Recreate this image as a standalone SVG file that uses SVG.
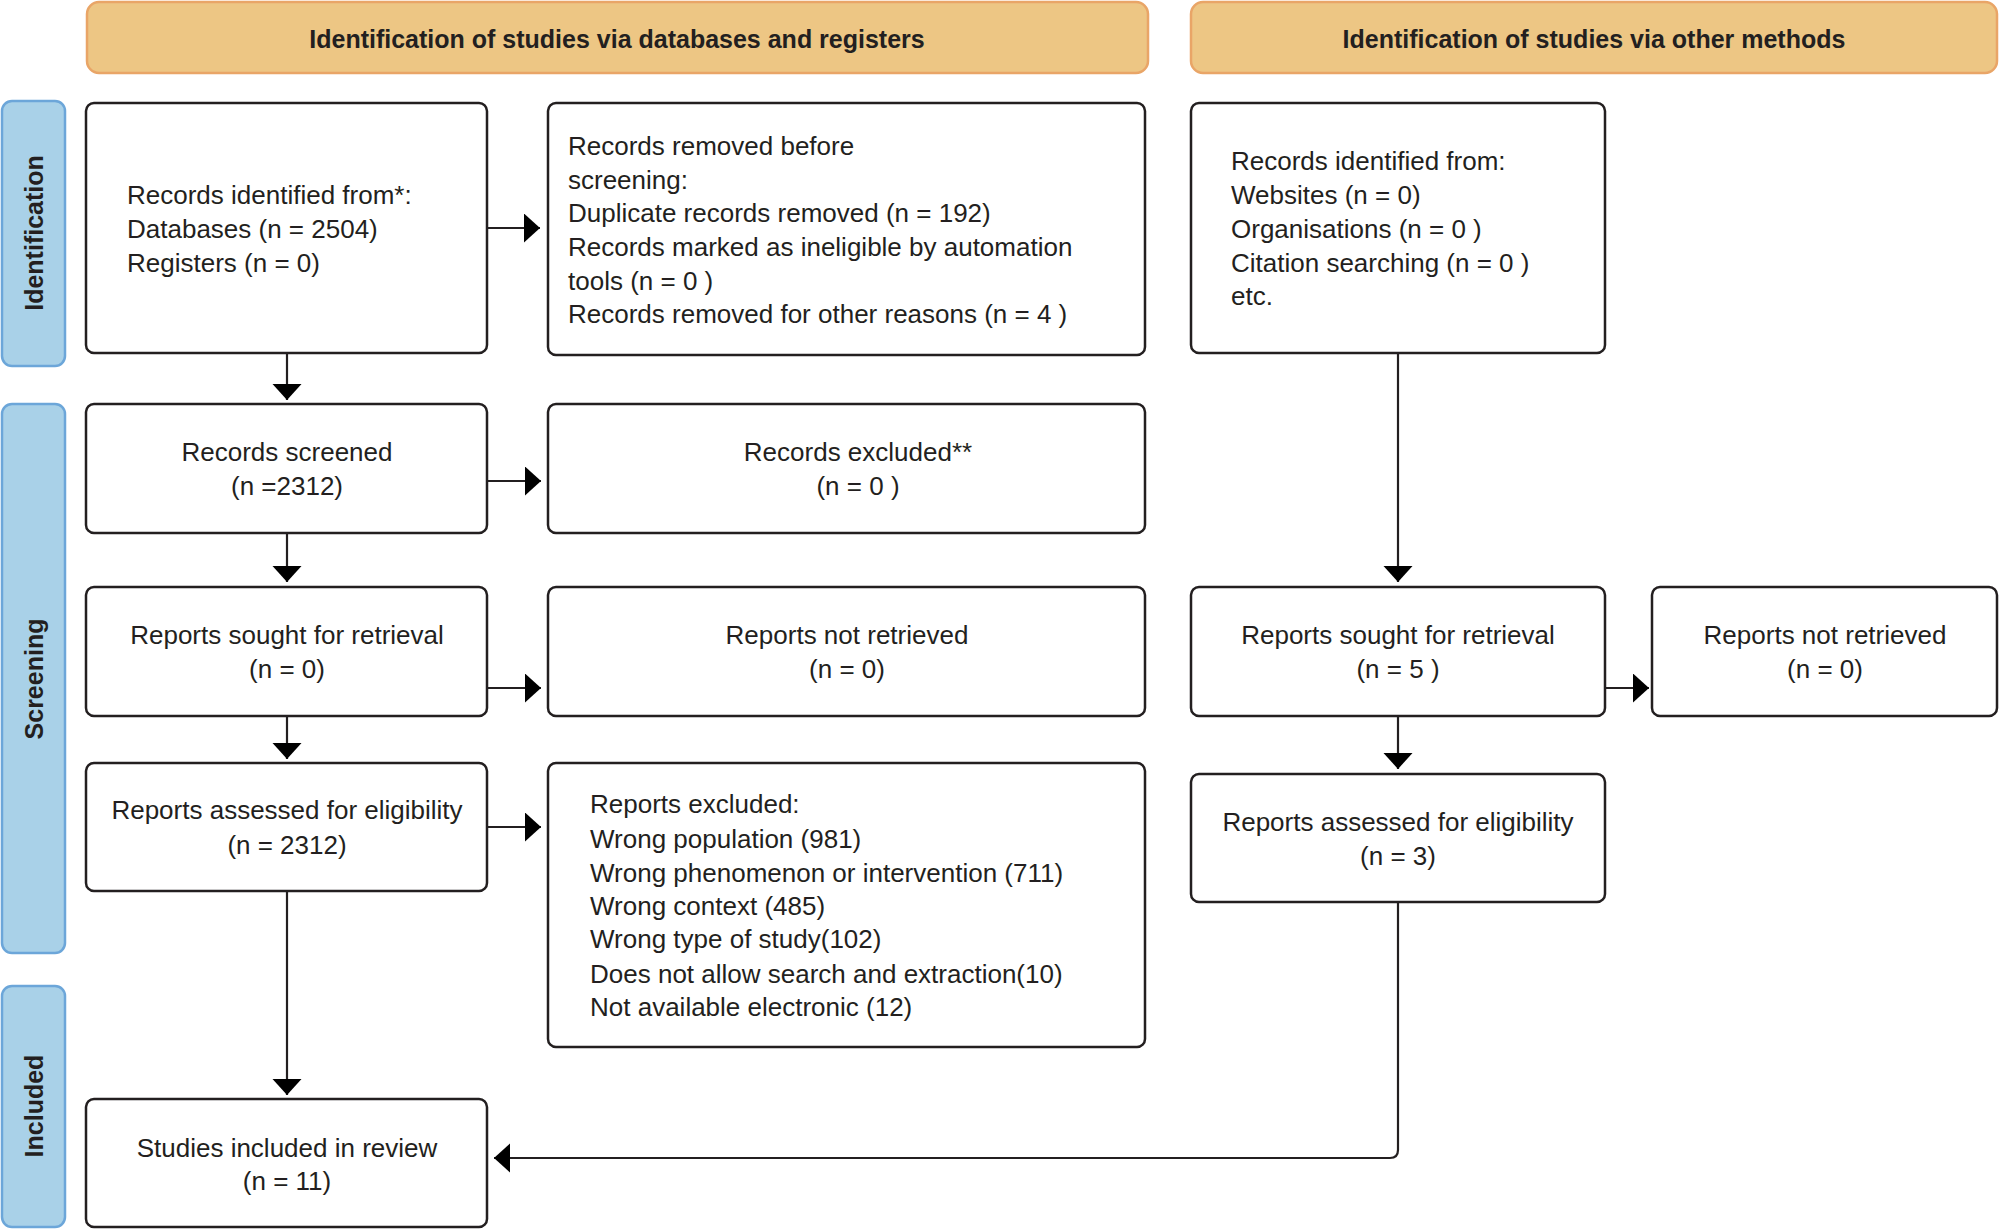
<svg xmlns="http://www.w3.org/2000/svg" width="2000" height="1229" viewBox="0 0 2000 1229">
<style>
.hdr{fill:#EDC684;stroke:#E9A567;stroke-width:2.5}
.side{fill:#A9D1E8;stroke:#6CA6D9;stroke-width:2.5}
.box{fill:#FFFFFF;stroke:#231F20;stroke-width:2.5}
.t{font-family:"Liberation Sans",Arial,sans-serif;font-size:26px;fill:#231F20}
.c{text-anchor:middle}
.ht{font-family:"Liberation Sans",Arial,sans-serif;font-size:25px;font-weight:bold;fill:#231F20;text-anchor:middle}
.st{font-family:"Liberation Sans",Arial,sans-serif;font-size:25px;font-weight:bold;fill:#231F20;text-anchor:middle}
.con{fill:none;stroke:#231F20;stroke-width:2.2}
</style>
<defs>
<marker id="ah" markerUnits="userSpaceOnUse" markerWidth="17" markerHeight="30" refX="16" refY="14.5" orient="auto">
<path d="M0,0 L16,14.5 L0,29 Z" fill="#000"/>
</marker>
</defs>
<rect width="2000" height="1229" fill="#FFFFFF"/>

<g id="header-databases">
<rect class="hdr" x="87" y="2" width="1061" height="71" rx="12"/>
<text class="ht" x="617" y="48">Identification of studies via databases and registers</text>
</g>
<g id="header-other">
<rect class="hdr" x="1191" y="2" width="806" height="71" rx="12"/>
<text class="ht" x="1594" y="48">Identification of studies via other methods</text>
</g>

<g id="side-identification">
<rect class="side" x="2" y="101" width="63" height="265" rx="10"/>
<text class="st" transform="translate(43,233) rotate(-90)">Identification</text>
</g>
<g id="side-screening">
<rect class="side" x="2" y="404" width="63" height="549" rx="10"/>
<text class="st" transform="translate(43,679) rotate(-90)">Screening</text>
</g>
<g id="side-included">
<rect class="side" x="2" y="986" width="63" height="241" rx="10"/>
<text class="st" transform="translate(43,1106) rotate(-90)">Included</text>
</g>

<g id="records-identified">
<rect class="box" x="86" y="103" width="401" height="250" rx="8"/>
<text class="t" x="127" y="204">Records identified from*:</text>
<text class="t" x="127" y="238">Databases (n = 2504)</text>
<text class="t" x="127" y="272">Registers (n = 0)</text>
</g>
<g id="records-removed">
<rect class="box" x="548" y="103" width="597" height="252" rx="8"/>
<text class="t" x="568" y="155">Records removed before</text>
<text class="t" x="568" y="189">screening:</text>
<text class="t" x="568" y="222">Duplicate records removed (n = 192)</text>
<text class="t" x="568" y="256">Records marked as ineligible by automation</text>
<text class="t" x="568" y="290">tools (n = 0 )</text>
<text class="t" x="568" y="323">Records removed for other reasons (n = 4 )</text>
</g>
<g id="other-identified">
<rect class="box" x="1191" y="103" width="414" height="250" rx="8"/>
<text class="t" x="1231" y="170">Records identified from:</text>
<text class="t" x="1231" y="204">Websites (n = 0)</text>
<text class="t" x="1231" y="238">Organisations (n = 0 )</text>
<text class="t" x="1231" y="272">Citation searching (n = 0 )</text>
<text class="t" x="1231" y="305">etc.</text>
</g>

<g id="records-screened">
<rect class="box" x="86" y="404" width="401" height="129" rx="8"/>
<text class="t c" x="287" y="461">Records screened</text>
<text class="t c" x="287" y="495">(n =2312)</text>
</g>
<g id="records-excluded">
<rect class="box" x="548" y="404" width="597" height="129" rx="8"/>
<text class="t c" x="858" y="461">Records excluded**</text>
<text class="t c" x="858" y="495">(n = 0 )</text>
</g>

<g id="reports-sought">
<rect class="box" x="86" y="587" width="401" height="129" rx="8"/>
<text class="t c" x="287" y="644">Reports sought for retrieval</text>
<text class="t c" x="287" y="678">(n = 0)</text>
</g>
<g id="reports-not-retrieved">
<rect class="box" x="548" y="587" width="597" height="129" rx="8"/>
<text class="t c" x="847" y="644">Reports not retrieved</text>
<text class="t c" x="847" y="678">(n = 0)</text>
</g>
<g id="other-reports-sought">
<rect class="box" x="1191" y="587" width="414" height="129" rx="8"/>
<text class="t c" x="1398" y="644">Reports sought for retrieval</text>
<text class="t c" x="1398" y="678">(n = 5 )</text>
</g>
<g id="other-reports-not-retrieved">
<rect class="box" x="1652" y="587" width="345" height="129" rx="8"/>
<text class="t c" x="1825" y="644">Reports not retrieved</text>
<text class="t c" x="1825" y="678">(n = 0)</text>
</g>

<g id="reports-assessed">
<rect class="box" x="86" y="763" width="401" height="128" rx="8"/>
<text class="t c" x="287" y="819">Reports assessed for eligibility</text>
<text class="t c" x="287" y="854">(n = 2312)</text>
</g>
<g id="reports-excluded">
<rect class="box" x="548" y="763" width="597" height="284" rx="8"/>
<text class="t" x="590" y="813">Reports excluded:</text>
<text class="t" x="590" y="848">Wrong population (981)</text>
<text class="t" x="590" y="882">Wrong phenomenon or intervention (711)</text>
<text class="t" x="590" y="915">Wrong context (485)</text>
<text class="t" x="590" y="948">Wrong type of study(102)</text>
<text class="t" x="590" y="983">Does not allow search and extraction(10)</text>
<text class="t" x="590" y="1016">Not available electronic (12)</text>
</g>
<g id="other-reports-assessed">
<rect class="box" x="1191" y="774" width="414" height="128" rx="8"/>
<text class="t c" x="1398" y="831">Reports assessed for eligibility</text>
<text class="t c" x="1398" y="865">(n = 3)</text>
</g>

<g id="studies-included">
<rect class="box" x="86" y="1099" width="401" height="128" rx="8"/>
<text class="t c" x="287" y="1157">Studies included in review</text>
<text class="t c" x="287" y="1190">(n = 11)</text>
</g>

<g id="connectors">
<path class="con" d="M487,228 H540" marker-end="url(#ah)"/>
<path class="con" d="M287,353 V400" marker-end="url(#ah)"/>
<path class="con" d="M487,481 H541" marker-end="url(#ah)"/>
<path class="con" d="M287,533 V582" marker-end="url(#ah)"/>
<path class="con" d="M487,688 H541" marker-end="url(#ah)"/>
<path class="con" d="M287,716 V759" marker-end="url(#ah)"/>
<path class="con" d="M487,827 H541" marker-end="url(#ah)"/>
<path class="con" d="M287,891 V1095" marker-end="url(#ah)"/>
<path class="con" d="M1398,353 V582" marker-end="url(#ah)"/>
<path class="con" d="M1605,688 H1649" marker-end="url(#ah)"/>
<path class="con" d="M1398,716 V769" marker-end="url(#ah)"/>
<path class="con" d="M1398,902 V1150 Q1398,1158 1390,1158 H494" marker-end="url(#ah)"/>
</g>
</svg>
